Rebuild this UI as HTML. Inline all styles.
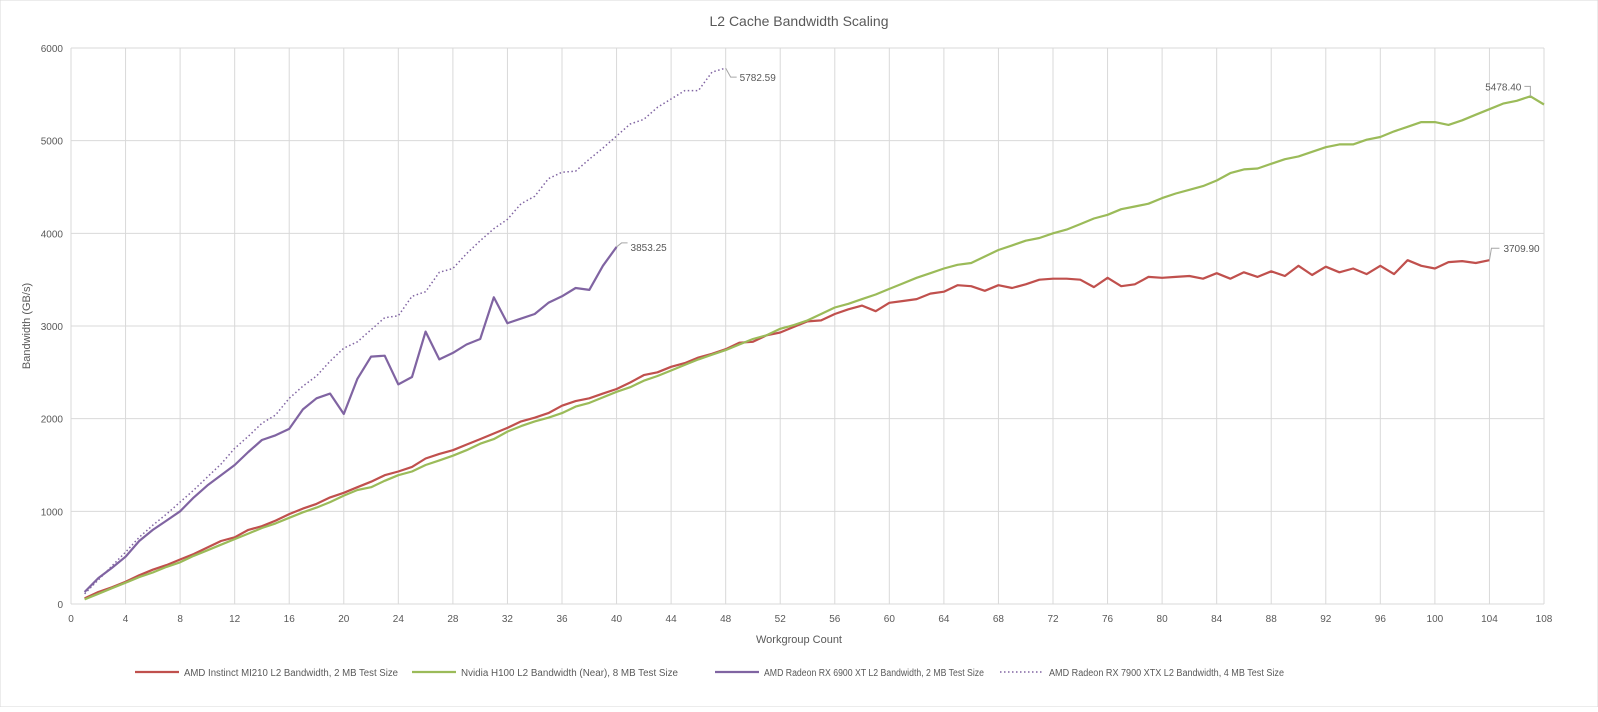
<!DOCTYPE html>
<html><head><meta charset="utf-8"><style>
body{margin:0;background:#fff;}
svg text{font-family:"Liberation Sans",sans-serif;fill:#595959;}
</style></head><body>
<svg id="chart" width="1598" height="707" xmlns="http://www.w3.org/2000/svg">
<rect x="0" y="0" width="1598" height="707" fill="#fff" stroke="#d9d9d9"/>
<text x="799" y="26" text-anchor="middle" font-size="14">L2 Cache Bandwidth Scaling</text>
<g id="grid"></g><g id="axes"></g><g id="series"></g>
<text x="799" y="643" text-anchor="middle" font-size="11">Workgroup Count</text>
<text transform="translate(30,326) rotate(-90)" text-anchor="middle" font-size="11">Bandwidth (GB/s)</text>
<g id="legend" font-size="10"></g>
</svg>
<script>
const xTicks=[0,4,8,12,16,20,24,28,32,36,40,44,48,52,56,60,64,68,72,76,80,84,88,92,96,100,104,108];
const yTicks=[0,1000,2000,3000,4000,5000,6000];
const mi210=[60,130,180,240,310,370,420,480,540,610,680,720,800,840,900,970,1030,1080,1150,1200,1260,1320,1390,1430,1480,1570,1620,1660,1720,1780,1840,1900,1970,2010,2060,2140,2190,2220,2270,2320,2390,2470,2500,2560,2600,2660,2700,2750,2820,2830,2900,2930,2990,3050,3060,3130,3180,3220,3160,3250,3270,3290,3350,3370,3440,3430,3380,3440,3410,3450,3500,3510,3510,3500,3420,3520,3430,3450,3530,3520,3530,3540,3510,3570,3510,3580,3530,3590,3540,3650,3550,3640,3580,3620,3560,3650,3560,3710,3650,3620,3690,3700,3680,3709.9];
const h100=[50,110,170,230,290,340,400,450,520,580,640,700,760,820,870,930,990,1040,1100,1170,1230,1260,1330,1390,1430,1500,1550,1600,1660,1730,1780,1860,1920,1970,2010,2060,2130,2170,2230,2290,2340,2410,2460,2520,2580,2640,2690,2740,2800,2860,2900,2970,3010,3060,3130,3200,3240,3290,3340,3400,3460,3520,3570,3620,3660,3680,3750,3820,3870,3920,3950,4000,4040,4100,4160,4200,4260,4290,4320,4380,4430,4470,4510,4570,4650,4690,4700,4750,4800,4830,4880,4930,4960,4960,5010,5040,5100,5150,5200,5200,5170,5220,5280,5340,5400,5430,5478.4,5390];
const rx6900=[130,280,390,510,680,800,900,1000,1150,1280,1390,1500,1640,1770,1820,1890,2100,2220,2270,2050,2430,2670,2680,2370,2450,2940,2640,2710,2800,2860,3310,3030,3080,3130,3250,3320,3410,3390,3650,3853.25];
const rx7900=[110,260,410,560,720,850,970,1100,1230,1370,1510,1680,1810,1950,2040,2220,2350,2460,2620,2760,2830,2960,3090,3110,3320,3370,3580,3620,3780,3920,4050,4150,4320,4400,4590,4660,4670,4800,4920,5050,5180,5230,5360,5450,5540,5540,5740,5782.59];
const seriesNames=["AMD Instinct MI210 L2 Bandwidth, 2 MB Test Size","Nvidia H100 L2 Bandwidth (Near), 8 MB Test Size","AMD Radeon RX 6900 XT L2 Bandwidth, 2 MB Test Size","AMD Radeon RX 7900 XTX L2 Bandwidth, 4 MB Test Size"];
const X0=71,X1=1544,Y0=604,Y1=48;
const xs=v=>X0+v*(X1-X0)/108, ys=v=>Y0-v*(Y0-Y1)/6000;
const NS="http://www.w3.org/2000/svg";
function mk(t,a,p){const e=document.createElementNS(NS,t);for(const k in a)e.setAttribute(k,a[k]);p.appendChild(e);return e;}
const grid=document.getElementById('grid'),axes=document.getElementById('axes'),ser=document.getElementById('series'),leg=document.getElementById('legend');
yTicks.forEach(v=>{const l=mk('line',{x1:X0,x2:X1,y1:ys(v),y2:ys(v),stroke:'#d9d9d9'},grid);


const t=mk('text',{x:X0-8,y:ys(v)+4,'text-anchor':'end','font-size':10},axes);t.textContent=v;

});
for(let i=1;i<=108;i++){if(i%4)continue;const l=mk('line',{x1:xs(i),x2:xs(i),y1:Y1,y2:Y0,stroke:'#d9d9d9'},grid);

}
mk('line',{x1:X0,x2:X0,y1:Y1,y2:Y0,stroke:'#d9d9d9'},grid);
xTicks.forEach(v=>{const t=mk('text',{x:xs(v),y:Y0+18,'text-anchor':'middle','font-size':10},axes);t.textContent=v;

});
const defs=[[mi210,'#c0504d',''],[h100,'#9bbb59',''],[rx6900,'#8064a2',''],[rx7900,'#8064a2','1.5 2.5']];
const names=['series-mi210','series-h100','series-rx6900xt','series-rx7900xtx'];
defs.forEach((d,k)=>{const pts=d[0].map((v,i)=>xs(i+1).toFixed(1)+','+ys(v).toFixed(1)).join(' ');
const p=mk('polyline',{points:pts,fill:'none',stroke:d[1],'stroke-width':k==3?1.5:2.2,'stroke-dasharray':d[2],'stroke-linejoin':'round'},ser);


let mi=0;d[0].forEach((v,i)=>{if(v>d[0][mi])mi=i;});
const idx=(k==0)?d[0].length-1:mi;
const last=d[0][idx],lx=xs(idx+1),ly=ys(last);
let tx,ty,anchor='start',path;
if(k==1){path=`M${lx},${ly} L${lx},${ly-10} L${lx-6},${ly-10}`;tx=lx-9;ty=ly-6;anchor='end';}
else if(k==0){tx=lx+14;ty=ly-8;path=`M${lx},${ly} L${lx+2},${ly-12} L${lx+10},${ly-12}`;}
else if(k==2){tx=lx+14;ty=ly+4;path=`M${lx},${ly} L${lx+5},${ly-4} L${lx+11},${ly-4}`;}
else{tx=lx+14;ty=ly+13;path=`M${lx},${ly} L${lx+5},${ly+9} L${lx+11},${ly+9}`;}
mk('path',{d:path,fill:'none',stroke:'#a6a6a6','stroke-width':1},ser);
const t=mk('text',{x:tx,y:ty,'text-anchor':anchor,'font-size':10,fill:'#404040'},ser);t.textContent=last.toFixed(2);

});
const lx=[135,412,715,1000];
const lw=[214,217,220,235];
seriesNames.forEach((s,k)=>{const g=mk('g',{},leg);


mk('line',{x1:lx[k],x2:lx[k]+44,y1:672,y2:672,stroke:defs[k][1],'stroke-width':k==3?1.5:2.2,'stroke-dasharray':defs[k][2]},g);
const t=mk('text',{x:lx[k]+49,y:676,textLength:lw[k],lengthAdjust:'spacingAndGlyphs'},g);t.textContent=s;});
</script>
</body></html>
